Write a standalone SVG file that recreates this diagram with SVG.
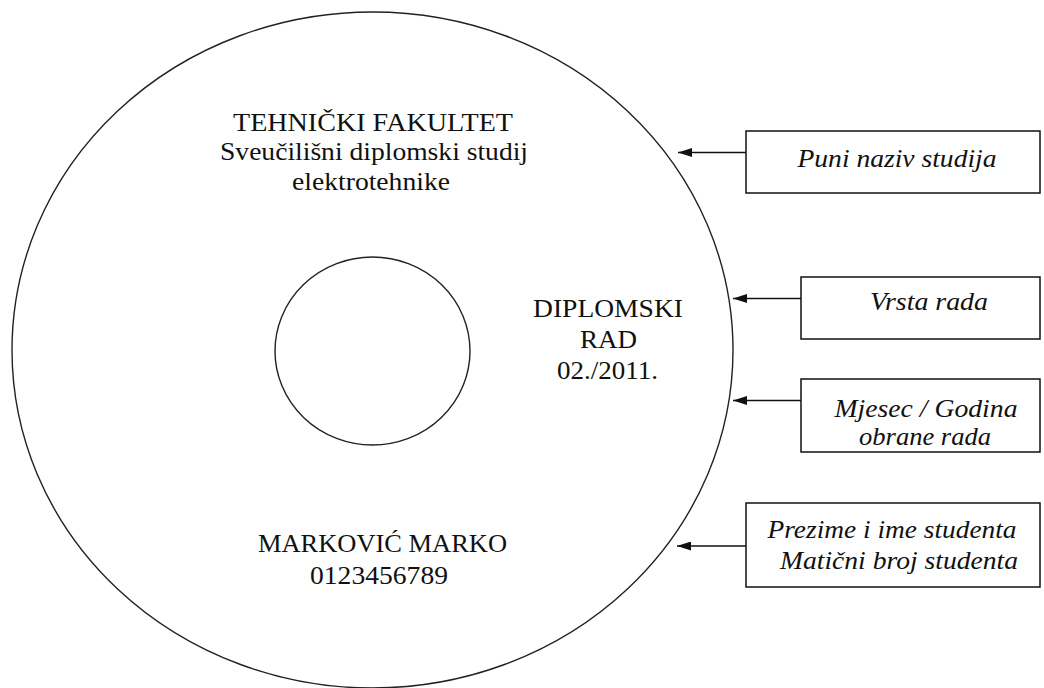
<svg xmlns="http://www.w3.org/2000/svg" width="1044" height="688" viewBox="0 0 1044 688">
<style>
.t{font-family:'Liberation Serif','DejaVu Serif',serif;font-size:25px;fill:#111;text-anchor:middle}
.i{font-style:italic}
.disc{fill:none;stroke:#222;stroke-width:1.4}
.box{fill:#fff;stroke:#111;stroke-width:1.5}
.arr{stroke:#111;stroke-width:1.5;fill:none;marker-end:url(#ah)}
</style>
<defs>
<marker id="ah" viewBox="0 0 14 9" refX="14" refY="4.5" markerWidth="14" markerHeight="9" markerUnits="userSpaceOnUse" orient="auto">
<path d="M0,0 L14,4.5 L0,9 Z" fill="#111"/>
</marker>
</defs>
<g id="disc">
<ellipse class="disc" cx="372.5" cy="350" rx="360.5" ry="338"/>
<ellipse class="disc" cx="372.5" cy="351" rx="97.5" ry="94"/>
</g>
<g id="disc-text">
<text class="t" x="373" y="131" textLength="280" lengthAdjust="spacingAndGlyphs">TEHNIČKI FAKULTET</text>
<text class="t" x="374" y="160" textLength="308" lengthAdjust="spacingAndGlyphs">Sveučilišni diplomski studij</text>
<text class="t" x="371" y="190" textLength="158" lengthAdjust="spacingAndGlyphs">elektrotehnike</text>
<text class="t" x="608" y="317" textLength="150" lengthAdjust="spacingAndGlyphs">DIPLOMSKI</text>
<text class="t" x="608.5" y="348" textLength="57" lengthAdjust="spacingAndGlyphs">RAD</text>
<text class="t" x="607.5" y="379" textLength="101" lengthAdjust="spacingAndGlyphs">02./2011.</text>
<text class="t" x="382.5" y="552" textLength="249" lengthAdjust="spacingAndGlyphs">MARKOVIĆ MARKO</text>
<text class="t" x="379" y="584" textLength="138" lengthAdjust="spacingAndGlyphs">0123456789</text>
</g>
<g id="connectors">
<line class="arr" x1="746" y1="152.5" x2="678" y2="152.5"/>
<line class="arr" x1="801" y1="298.5" x2="733" y2="298.5"/>
<line class="arr" x1="801" y1="400.5" x2="733" y2="400.5"/>
<line class="arr" x1="746" y1="546" x2="677" y2="546"/>
</g>
<g id="box-studij">
<rect class="box" x="746" y="131" width="294" height="62"/>
<text class="t i" x="897" y="167" textLength="199" lengthAdjust="spacingAndGlyphs">Puni naziv studija</text>
</g>
<g id="box-vrsta">
<rect class="box" x="801" y="277" width="239" height="62"/>
<text class="t i" x="929" y="310" textLength="118" lengthAdjust="spacingAndGlyphs">Vrsta rada</text>
</g>
<g id="box-datum">
<rect class="box" x="801" y="379" width="239" height="73"/>
<text class="t i" x="926" y="417" textLength="183" lengthAdjust="spacingAndGlyphs">Mjesec / Godina</text>
<text class="t i" x="925" y="445" textLength="132" lengthAdjust="spacingAndGlyphs">obrane rada</text>
</g>
<g id="box-student">
<rect class="box" x="746" y="503" width="294" height="84"/>
<text class="t i" x="892" y="538" textLength="249" lengthAdjust="spacingAndGlyphs">Prezime i ime studenta</text>
<text class="t i" x="899" y="569" textLength="238" lengthAdjust="spacingAndGlyphs">Matični broj studenta</text>
</g>
</svg>
